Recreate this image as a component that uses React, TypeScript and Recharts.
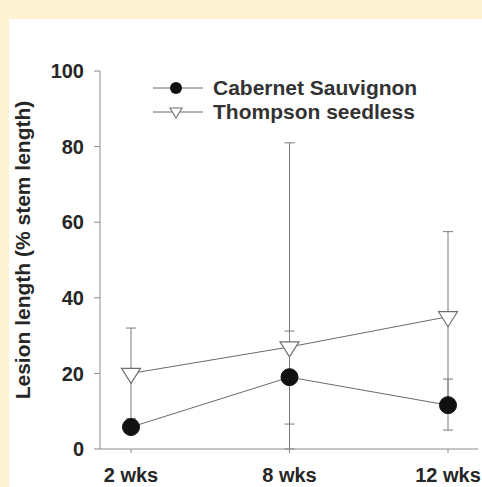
import React from 'react'
import { ErrorBar, Label, Legend, Line, LineChart, XAxis, YAxis } from 'recharts'

const weeks = ['2 wks', '8 wks', '12 wks']
const cabernet = [5.8, 19, 11.6]
const cabernetErr = [[1.5, 1.5], [12.4, 12.2], [6.6, 6.9]]
const thompson = [20, 27, 35]
const thompsonErr = [[12, 12], [27, 54], [22.5, 22.5]]
const yTicks = [0, 20, 40, 60, 80, 100]

const data = weeks.map((name, i) => ({
  name,
  cab: cabernet[i],
  cabErr: cabernetErr[i],
  tho: thompson[i],
  thoErr: thompsonErr[i],
}))

const FONT = '"Liberation Sans", Arial, sans-serif'
const AXIS = '#8a8a8a'
const INK = '#262626'
const LINE = '#6a6a6a'

const TriangleDot = (props: any) => {
  const { cx, cy, index } = props
  if (cx == null || cy == null) return null
  return (
    <path
      key={`t-${index}`}
      d={`M${cx - 9.5},${cy - 5} L${cx + 9.5},${cy - 5} L${cx},${cy + 10} Z`}
      fill="#fff"
      stroke="#707070"
      strokeWidth={1.2}
    />
  )
}

const CircleDot = (props: any) => {
  const { cx, cy, index } = props
  if (cx == null || cy == null) return null
  return <circle key={`c-${index}`} cx={cx} cy={cy} r={8.5} fill="#111" stroke="#111" />
}

const legendRows = [
  { label: 'Cabernet Sauvignon', kind: 'circle' },
  { label: 'Thompson seedless', kind: 'triangle' },
]

function renderLegend() {
  return (
    <div style={{ fontFamily: FONT }}>
      {legendRows.map((r) => (
        <div key={r.label} style={{ display: 'flex', alignItems: 'center', height: 24 }}>
          <svg width={50} height={24} style={{ display: 'block' }}>
            <line x1={0} y1={12} x2={50} y2={12} stroke={LINE} strokeWidth={1} />
            {r.kind === 'circle' ? (
              <circle cx={23} cy={12} r={6} fill="#111" />
            ) : (
              <path d="M17,8 L29,8 L23,18 Z" fill="#fff" stroke="#707070" strokeWidth={1.1} />
            )}
          </svg>
          <span style={{ marginLeft: 10, fontSize: 21, fontWeight: 700, color: '#333', lineHeight: '24px' }}>
            {r.label}
          </span>
        </div>
      ))}
    </div>
  )
}

export default function App() {
  return (
    <div style={{ position: 'absolute', left: 0, top: 0, width: 482, height: 487, overflow: 'hidden', background: '#fdf3d2' }}>
      <div style={{ position: 'absolute', left: 9, top: 19, right: 0, bottom: 0, background: '#fff' }} />
      <div style={{ position: 'absolute', left: 0, top: 0 }}>
        <LineChart width={482} height={487} data={data} margin={{ top: 71, right: 4, bottom: 0, left: 40 }}>
          <XAxis
            dataKey="name"
            height={38}
            padding={{ left: 31, right: 30 }}
            stroke={AXIS}
            tickSize={4}
            tickMargin={15}
            tick={{ fontSize: 20, fontWeight: 700, fill: INK, fontFamily: FONT }}
          />
          <XAxis xAxisId="top" dataKey="name" orientation="top" height={0} tick={false} tickLine={false} stroke={AXIS} />
          <YAxis
            domain={[0, 100]}
            ticks={yTicks}
            width={60}
            stroke={AXIS}
            tickSize={6}
            tickMargin={10}
            tick={{ fontSize: 20, fontWeight: 700, fill: INK, fontFamily: FONT }}
          >
            <Label
              content={() => (
                <text
                  x={22}
                  y={250}
                  transform="rotate(-90 22 250)"
                  textAnchor="middle"
                  dominantBaseline="central"
                  fontSize={21}
                  fontWeight={700}
                  fill={INK}
                  fontFamily={FONT}
                >
                  Lesion length (% stem length)
                </text>
              )}
            />
          </YAxis>
          <YAxis yAxisId="right" orientation="right" width={0} tick={false} tickLine={false} stroke={AXIS} domain={[0, 100]} />
          <Legend
            content={renderLegend}
            layout="vertical"
            verticalAlign="middle"
            align="center"
            wrapperStyle={{ top: 76, left: 153, width: 300 }}
          />
          <Line
            dataKey="tho"
            stroke={LINE}
            strokeWidth={1}
            dot={TriangleDot}
            activeDot={false}
            isAnimationActive={false}
          >
            <ErrorBar dataKey="thoErr" width={5} stroke="#7a7a7a" strokeWidth={1} />
          </Line>
          <Line
            dataKey="cab"
            stroke={LINE}
            strokeWidth={1}
            dot={CircleDot}
            activeDot={false}
            isAnimationActive={false}
          >
            <ErrorBar dataKey="cabErr" width={5} stroke="#7a7a7a" strokeWidth={1} />
          </Line>
        </LineChart>
      </div>
    </div>
  )
}
